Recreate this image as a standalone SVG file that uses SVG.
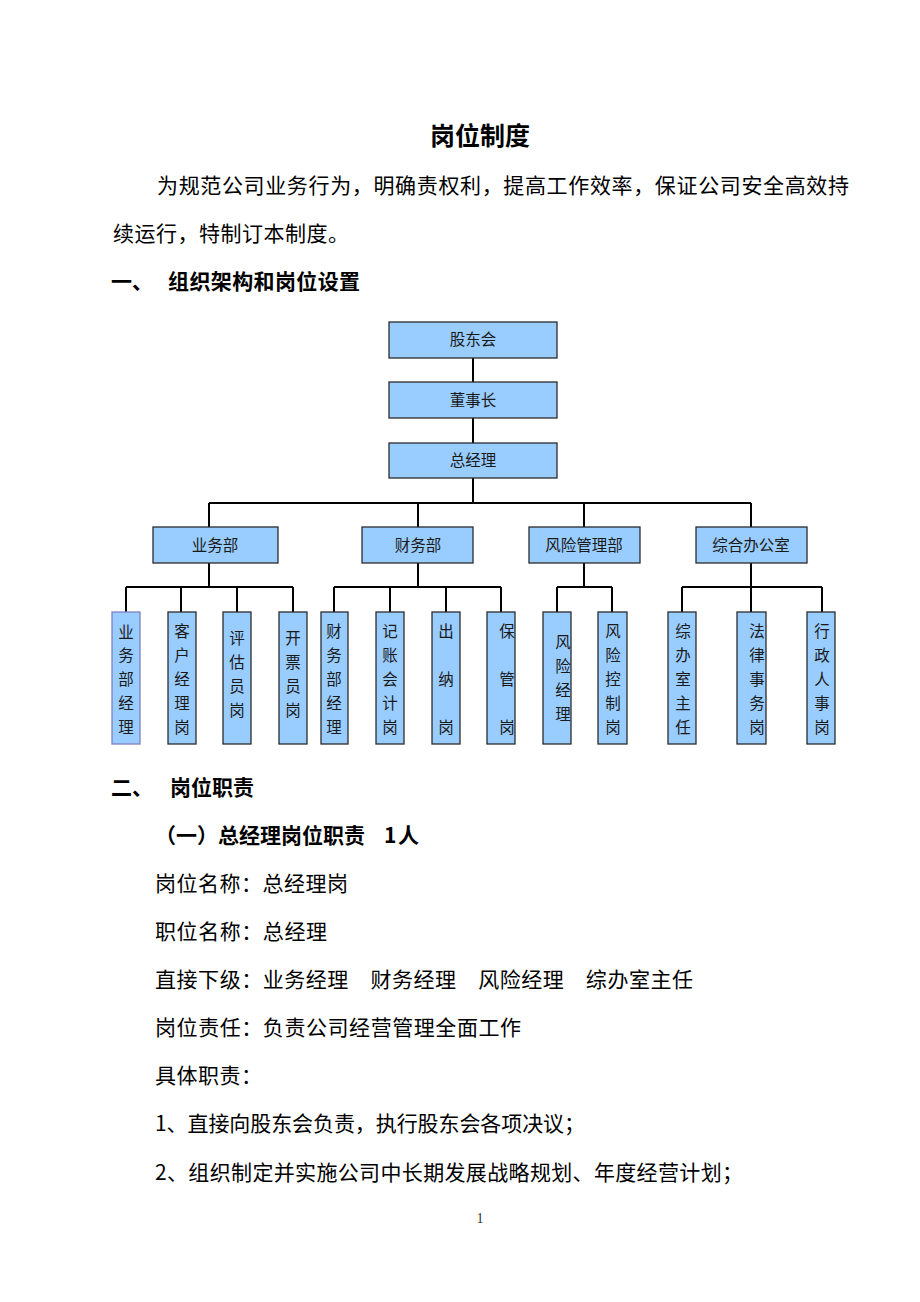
<svg xmlns="http://www.w3.org/2000/svg" width="920" height="1302" viewBox="0 0 920 1302">
<style>
.bg{fill:#ffffff}
.t{font-family:"Noto Sans CJK SC","Liberation Serif",serif;font-size:21px;fill:#000}
.b{font-weight:bold}
.box{fill:#99CCFF;stroke:#2b2b2b;stroke-width:1.3}
.lbl{font-family:"Noto Sans CJK SC","Liberation Sans",sans-serif;font-size:15.5px;fill:#1a1a1a;text-anchor:middle}
.con{stroke:#000;stroke-width:2;fill:none}
</style>
<rect class="bg" x="0" y="0" width="920" height="1302"/>

<g id="text">
<text class="t b" x="480" y="145" text-anchor="middle" style="font-size:25px">岗位制度</text>
<text class="t" x="157" y="193" textLength="692" lengthAdjust="spacing">为规范公司业务行为，明确责权利，提高工作效率，保证公司安全高效持</text>
<text class="t" x="113" y="241" textLength="236" lengthAdjust="spacing">续运行，特制订本制度。</text>
<text class="t b" x="111" y="289">一、</text>
<text class="t b" x="168" y="289" textLength="192" lengthAdjust="spacing">组织架构和岗位设置</text>
<text class="t b" x="111" y="795">二、</text>
<text class="t b" x="170" y="795" textLength="84" lengthAdjust="spacing">岗位职责</text>
<text class="t b" x="155" y="843">（一）总经理岗位职责 <tspan x="384">1</tspan><tspan x="398">人</tspan></text>
<text class="t" x="155" y="891" textLength="193" lengthAdjust="spacing">岗位名称：总经理岗</text>
<text class="t" x="155" y="939" textLength="172" lengthAdjust="spacing">职位名称：总经理</text>
<text class="t" x="155" y="987" textLength="538" lengthAdjust="spacing">直接下级：业务经理　财务经理　风险经理　综办室主任</text>
<text class="t" x="155" y="1035" textLength="366" lengthAdjust="spacing">岗位责任：负责公司经营管理全面工作</text>
<text class="t" x="155" y="1083" textLength="107" lengthAdjust="spacing">具体职责：</text>
<text class="t" x="155" y="1131" textLength="430" lengthAdjust="spacing">1、直接向股东会负责，执行股东会各项决议；</text>
<text class="t" x="155" y="1180" textLength="588" lengthAdjust="spacing">2、组织制定并实施公司中长期发展战略规划、年度经营计划；</text>
<text x="480" y="1223" text-anchor="middle" style="font-family:'Liberation Serif',serif;font-size:14px;fill:#333">1</text>
</g>

<g id="connectors">
<path class="con" d="M473,358V382M473,418V443M473,478V503M209,503H751M209,503V527M418,503V527M584,503V527M751,503V527"/>
<path class="con" d="M209,563V587M126,587H293M126,587V612M181,587V612M237,587V612M293,587V612"/>
<path class="con" d="M418,563V587M334,587H501M334,587V612M390,587V612M446,587V612M501,587V612"/>
<path class="con" d="M584,563V587M557,587H612M557,587V612M612,587V612"/>
<path class="con" d="M751,563V612M682,587H822M682,587V612M822,587V612"/>
</g>

<g id="n-gudonghui"><rect class="box" x="389" y="322" width="168" height="36"/><text class="lbl" x="473" y="345">股东会</text></g>
<g id="n-dongshizhang"><rect class="box" x="389" y="382" width="168" height="36"/><text class="lbl" x="473" y="406">董事长</text></g>
<g id="n-zongjingli"><rect class="box" x="389" y="443" width="168" height="35"/><text class="lbl" x="473" y="466">总经理</text></g>

<g id="n-yewubu"><rect class="box" x="153" y="527" width="125" height="36"/><text class="lbl" x="215" y="551">业务部</text></g>
<g id="n-caiwubu"><rect class="box" x="362" y="527" width="111" height="36"/><text class="lbl" x="418" y="551">财务部</text></g>
<g id="n-fengxianbu"><rect class="box" x="529" y="527" width="111" height="36"/><text class="lbl" x="584" y="551">风险管理部</text></g>
<g id="n-zonghe"><rect class="box" x="696" y="527" width="111" height="36"/><text class="lbl" x="751" y="551">综合办公室</text></g>

<g id="n-ywjl"><rect class="box" x="112" y="612" width="28" height="132" style="stroke:#8080c0"/><text class="lbl"><tspan x="126" y="638">业</tspan><tspan x="126" y="661">务</tspan><tspan x="126" y="685">部</tspan><tspan x="126" y="709">经</tspan><tspan x="126" y="733">理</tspan></text></g>
<g id="n-khjl"><rect class="box" x="168" y="612" width="28" height="132"/><text class="lbl"><tspan x="182" y="637">客</tspan><tspan x="182" y="661">户</tspan><tspan x="182" y="685">经</tspan><tspan x="182" y="709">理</tspan><tspan x="182" y="733">岗</tspan></text></g>
<g id="n-pgy"><rect class="box" x="223" y="612" width="28" height="132"/><text class="lbl"><tspan x="237" y="644">评</tspan><tspan x="237" y="668">估</tspan><tspan x="237" y="692">员</tspan><tspan x="237" y="716">岗</tspan></text></g>
<g id="n-kpy"><rect class="box" x="279" y="612" width="28" height="132"/><text class="lbl"><tspan x="293" y="644">开</tspan><tspan x="293" y="668">票</tspan><tspan x="293" y="692">员</tspan><tspan x="293" y="716">岗</tspan></text></g>
<g id="n-cwjl"><rect class="box" x="321" y="612" width="27" height="132"/><text class="lbl"><tspan x="334" y="637">财</tspan><tspan x="334" y="661">务</tspan><tspan x="334" y="685">部</tspan><tspan x="334" y="709">经</tspan><tspan x="334" y="733">理</tspan></text></g>
<g id="n-jzkj"><rect class="box" x="376" y="612" width="28" height="132"/><text class="lbl"><tspan x="390" y="637">记</tspan><tspan x="390" y="661">账</tspan><tspan x="390" y="685">会</tspan><tspan x="390" y="709">计</tspan><tspan x="390" y="733">岗</tspan></text></g>
<g id="n-cn"><rect class="box" x="432" y="612" width="28" height="132"/><text class="lbl"><tspan x="446" y="637">出</tspan><tspan x="446" y="685">纳</tspan><tspan x="446" y="733">岗</tspan></text></g>
<g id="n-bg"><rect class="box" x="487" y="612" width="28" height="132"/><text class="lbl"><tspan x="507" y="637">保</tspan><tspan x="507" y="685">管</tspan><tspan x="507" y="733">岗</tspan></text></g>
<g id="n-fxjl"><rect class="box" x="543" y="612" width="28" height="132"/><text class="lbl"><tspan x="563" y="648">风</tspan><tspan x="563" y="672">险</tspan><tspan x="563" y="696">经</tspan><tspan x="563" y="720">理</tspan></text></g>
<g id="n-fxkz"><rect class="box" x="598" y="612" width="29" height="132"/><text class="lbl"><tspan x="613" y="637">风</tspan><tspan x="613" y="661">险</tspan><tspan x="613" y="685">控</tspan><tspan x="613" y="709">制</tspan><tspan x="613" y="733">岗</tspan></text></g>
<g id="n-zbszr"><rect class="box" x="668" y="612" width="28" height="132"/><text class="lbl"><tspan x="683" y="637">综</tspan><tspan x="683" y="661">办</tspan><tspan x="683" y="685">室</tspan><tspan x="683" y="709">主</tspan><tspan x="683" y="733">任</tspan></text></g>
<g id="n-flsw"><rect class="box" x="737" y="612" width="29" height="132"/><text class="lbl"><tspan x="757" y="637">法</tspan><tspan x="757" y="661">律</tspan><tspan x="757" y="685">事</tspan><tspan x="757" y="709">务</tspan><tspan x="757" y="733">岗</tspan></text></g>
<g id="n-xzrs"><rect class="box" x="807" y="612" width="28" height="132"/><text class="lbl"><tspan x="822" y="637">行</tspan><tspan x="822" y="661">政</tspan><tspan x="822" y="685">人</tspan><tspan x="822" y="709">事</tspan><tspan x="822" y="733">岗</tspan></text></g>
</svg>
